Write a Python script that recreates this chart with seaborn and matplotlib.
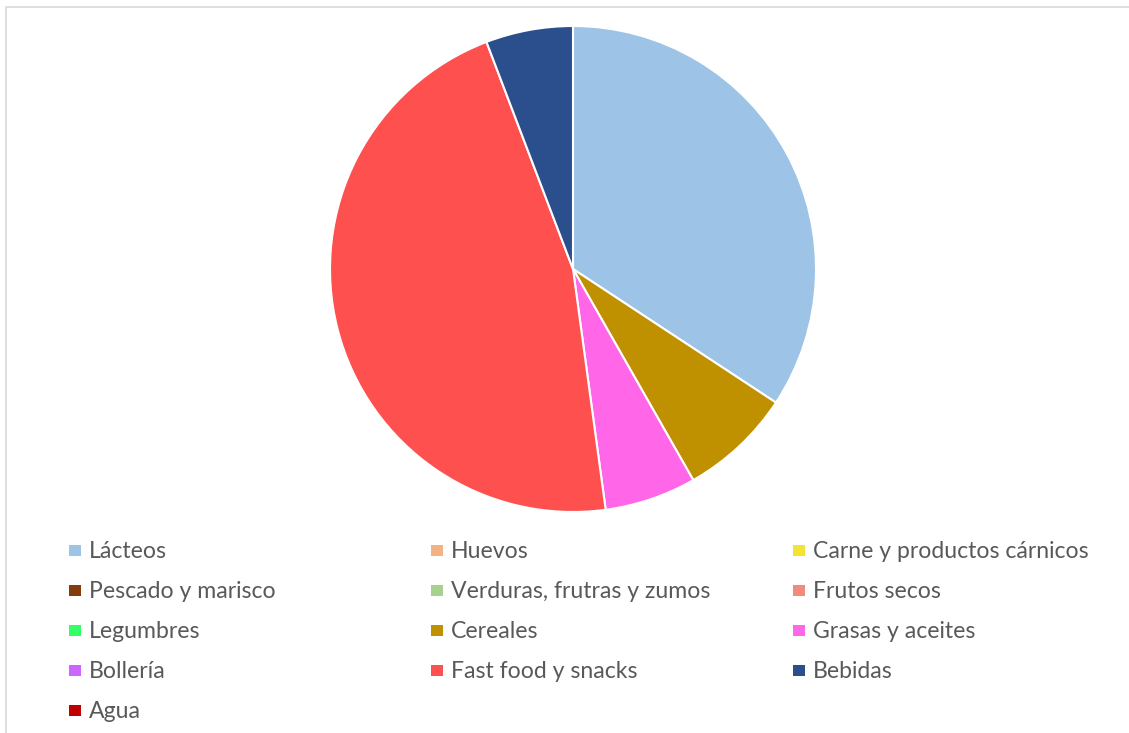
import matplotlib
matplotlib.use("Agg")
import matplotlib.pyplot as plt
from matplotlib.patches import Rectangle
import seaborn as sns

categories = [
    "Lácteos", "Huevos", "Carne y productos cárnicos",
    "Pescado y marisco", "Verduras, frutras y zumos", "Frutos secos",
    "Legumbres", "Cereales", "Grasas y aceites",
    "Bollería", "Fast food y snacks", "Bebidas",
    "Agua",
]
values = [34.3, 0, 0, 0, 0, 0, 0, 7.5, 6.1, 0, 46.4, 5.8, 0]
colors = [
    "#9DC3E6", "#F4B183", "#F4E334",
    "#843C0C", "#A9D18E", "#F4897E",
    "#33FF66", "#BF9000", "#FF66E8",
    "#CC66FF", "#FF5050", "#2B4F8C",
    "#C00000",
]

sns.set_theme(style="white")
plt.rcParams["font.family"] = ["Lato", "DejaVu Sans"]

W, H = 1129, 733
fig = plt.figure(figsize=(W / 100, H / 100), dpi=100)
ax = fig.add_axes([0, 0, 1, 1])
ax.set_xlim(0, W)
ax.set_ylim(0, H)
ax.set_aspect("equal")
ax.axis("off")

# chart frame
ax.add_patch(Rectangle((6, -20), W + 40, H - 7 + 20, fill=False,
                       edgecolor="#D9D9D9", linewidth=1.2))

# pie drawn from the non-zero categories
pie_vals = [v for v in values if v > 0]
pie_cols = [c for v, c in zip(values, colors) if v > 0]
ax.pie(pie_vals, colors=pie_cols, startangle=90, counterclock=False,
       center=(573, H - 269), radius=243,
       wedgeprops=dict(edgecolor="white", linewidth=1.5))
ax.set_xlim(0, W)
ax.set_ylim(0, H)

# legend laid out in rows of three
col_x = [69, 431, 793]
row_y0, row_dy = 550, 40
for i, (lab, col) in enumerate(zip(categories, colors)):
    r, c = divmod(i, 3)
    x = col_x[c]
    y = H - (row_y0 + r * row_dy)
    ax.add_patch(Rectangle((x, y - 5.5), 11.5, 11, facecolor=col, edgecolor="none"))
    ax.text(x + 20, y - 1, lab, fontsize=16.6, color="#595959", va="center", ha="left")

fig.savefig("out.png", dpi=100)
